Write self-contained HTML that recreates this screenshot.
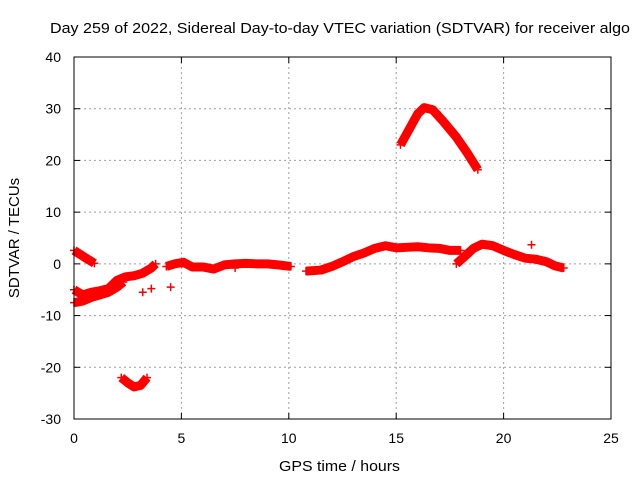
<!DOCTYPE html>
<html><head><meta charset="utf-8">
<style>
body{margin:0;background:#fff;}
svg{display:block;font-family:"Liberation Sans",sans-serif;}
</style></head>
<body>
<svg id="chart" width="640" height="480" viewBox="0 0 640 480">
<rect width="640" height="480" fill="#fff"/>
<text x="50" y="33" font-size="15" textLength="580" lengthAdjust="spacingAndGlyphs">Day 259 of 2022, Sidereal Day-to-day VTEC variation (SDTVAR) for receiver algo</text>
<g id="grid"></g>
<g id="series"></g>
<rect x="74" y="57" width="537" height="362" fill="none" stroke="#000" stroke-width="1"/>
<g id="ticks"></g>
<text x="279" y="471" font-size="15" textLength="121" lengthAdjust="spacingAndGlyphs">GPS time / hours</text>
<text transform="translate(19,238) rotate(-90)" font-size="15" text-anchor="middle">SDTVAR / TECUs</text>
</svg>
<script>
const xTicks=[0,5,10,15,20,25];
const yTicks=[-30,-20,-10,0,10,20,30,40];
const segA=[[0,2.6],[0.3,1.8],[0.6,1.0],[0.95,0.1]];
const segB1=[[0,-5],[0.4,-6],[0.8,-5.5],[1.2,-5.2],[1.6,-4.8],[2,-3.2],[2.4,-2.5],[2.8,-2.3],[3.2,-1.8],[3.6,-0.8],[3.8,0]];
const segB2=[[0,-7.5],[0.4,-7.2],[0.8,-6.5],[1.2,-6],[1.6,-5.5],[2,-4.5],[2.3,-3.5]];
const segC=[[2.2,-22],[2.5,-23],[2.8,-23.8],[3.1,-23.5],[3.4,-22]];
const segD=[[4.3,-0.5],[4.7,0],[5.1,0.3],[5.5,-0.6],[6,-0.6],[6.5,-1],[7,-0.2],[7.5,0],[8,0.1],[8.5,0],[9,0],[9.5,-0.2],[10.1,-0.5]];
const segE=[[10.8,-1.4],[11.5,-1.2],[12,-0.5],[12.5,0.4],[13,1.4],[13.5,2.1],[14,3],[14.5,3.5],[15,3.1],[15.5,3.2],[16,3.3],[16.5,3.1],[17,3],[17.5,2.6],[18,2.6]];
const segF=[[17.8,0],[18.2,1.5],[18.6,3],[19,3.8],[19.5,3.5],[20,2.6],[20.5,1.8],[21,1.1],[21.5,0.9],[22,0.4],[22.4,-0.4],[22.8,-0.8]];
const segG=[[15.2,23],[15.6,26],[16,29],[16.3,30.2],[16.7,29.8],[17.2,27.5],[17.8,24.5],[18.3,21.5],[18.8,18.2]];
const extras=[[3.2,-5.5],[3.6,-4.8],[4.5,-4.5],[21.3,3.7],[6,-0.5],[7.5,-0.8]];
const segments=[segA,segB1,segB2,segC,segD,segE,segF,segG];
const X0=74,X1=611,Y0=419,Y1=57;
const sx=v=>X0+(v-0)/(25-0)*(X1-X0);
const sy=v=>Y0-(v-(-30))/(40-(-30))*(Y0-Y1);
const NS="http://www.w3.org/2000/svg";
const grid=document.getElementById('grid'),ticks=document.getElementById('ticks'),ser=document.getElementById('series');
function mk(tag,attrs,parent){const e=document.createElementNS(NS,tag);for(const k in attrs)e.setAttribute(k,attrs[k]);parent.appendChild(e);return e;}
xTicks.forEach(t=>{
  const x=sx(t);
  if(t>0&&t<25){const l=mk('line',{x1:x,x2:x,y1:Y1,y2:Y0,stroke:'#a0a0a0','stroke-dasharray':'2,3'},grid);
  
  }
  mk('line',{x1:x,x2:x,y1:Y0,y2:Y0-6,stroke:'#000'},ticks);
  mk('line',{x1:x,x2:x,y1:Y1,y2:Y1+6,stroke:'#000'},ticks);
  const tx=mk('text',{x:x,y:443,'font-size':14,'text-anchor':'middle'},ticks);tx.textContent=t;
  
  
});
yTicks.forEach(t=>{
  const y=sy(t);
  if(t>-30&&t<40){const l=mk('line',{x1:X0,x2:X1,y1:y,y2:y,stroke:'#a0a0a0','stroke-dasharray':'2,3'},grid);
  
  }
  mk('line',{x1:X0,x2:X0+6,y1:y,y2:y,stroke:'#000'},ticks);
  mk('line',{x1:X1,x2:X1-6,y1:y,y2:y,stroke:'#000'},ticks);
  const tx=mk('text',{x:61,y:y+5,'font-size':14,'text-anchor':'end'},ticks);tx.textContent=t;
  
  
});
function plus(p){
  const x=sx(p[0]),y=sy(p[1]);
  const m=mk('path',{d:`M${x-4},${y}H${x+4}M${x},${y-4}V${y+4}`,stroke:'#f00','stroke-width':1.5},ser);
  
  
}
segments.forEach(s=>{
  const pl=mk('polyline',{points:s.map(p=>sx(p[0])+','+sy(p[1])).join(' '),fill:'none',stroke:'#f00','stroke-width':9,'stroke-linejoin':'round'},ser);
  
  
  s.forEach(plus);
});
extras.forEach(plus);
</script>
</body></html>
